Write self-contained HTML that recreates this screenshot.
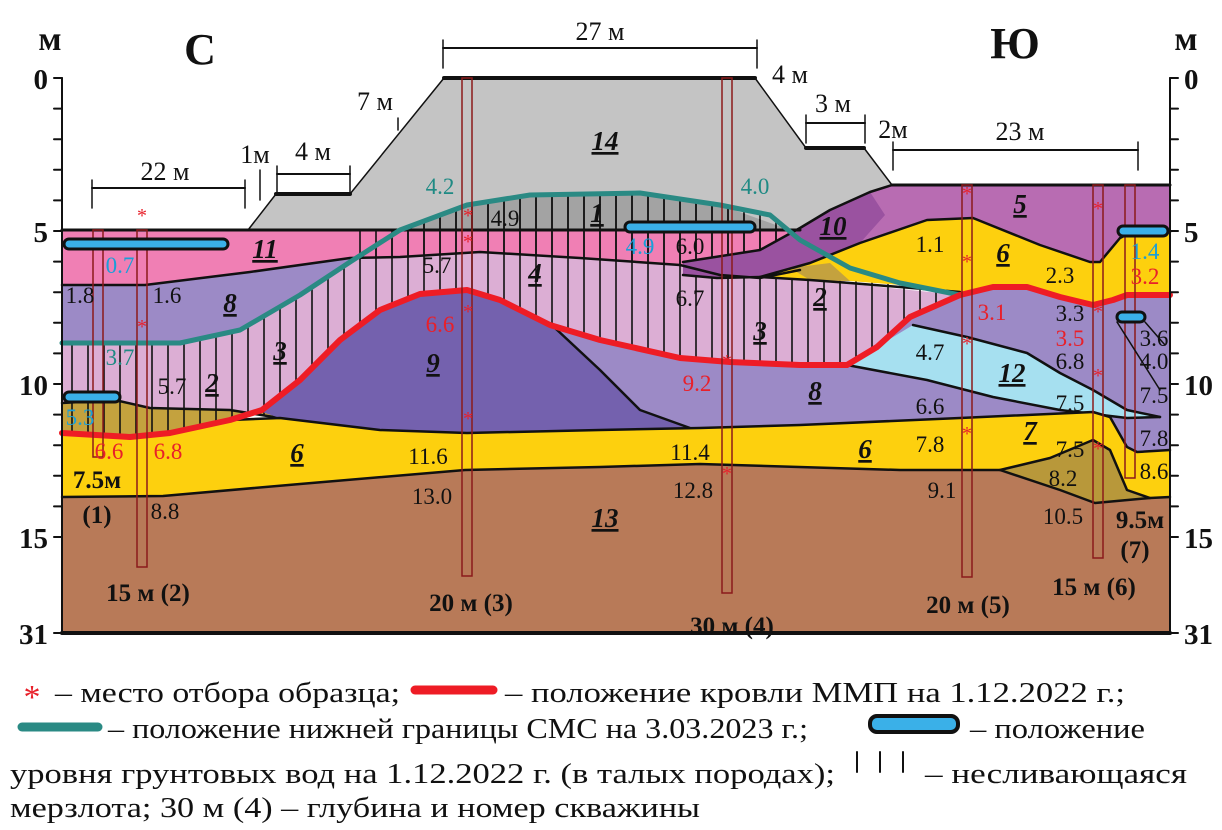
<!DOCTYPE html>
<html><head><meta charset="utf-8"><style>
html,body{margin:0;padding:0;background:#fff;}
svg{display:block;font-family:"Liberation Serif",serif;}
.n{font-size:23px;fill:#111;}
.r{font-size:23px;fill:#e8202a;}
.b{font-size:23px;fill:#1a9fd8;}
.t{font-size:23px;fill:#1f8a84;}
.L{font-size:27px;font-weight:bold;font-style:italic;fill:#111;text-decoration:underline;}
.B{font-size:25px;font-weight:bold;fill:#111;}
.ax{font-size:29px;font-weight:bold;fill:#111;}
.lg{font-size:29px;fill:#111;}
</style></head><body>
<svg id="s" width="1222" height="830" viewBox="0 0 1222 830" xmlns="http://www.w3.org/2000/svg">
<defs>
<pattern id="hatch" width="16" height="10" patternUnits="userSpaceOnUse"><rect width="16" height="10" fill="none"/><line x1="8" y1="0" x2="8" y2="10" stroke="#111" stroke-width="1.6"/></pattern>
</defs>
<g id="layers"></g>
<g id="over"></g>
</svg>
<script>
const frame = {l:62, r:1170, top:78, bot:633};
const groundSurface = [[62,230],[248,230],[276,194],[350,194],[444,78],[755,78],[806,148],[864,148],[892,185],[1170,185]];
const top13 = [[62,497],[163,496],[300,484],[465,470],[600,467],[700,464],[900,470],[1000,470],[1060,490],[1095,503],[1150,498],[1170,497]];
const top6 = [[62,433],[130,437],[170,433],[230,420],[280,418],[380,430],[467,433],[600,430],[700,428],[800,425],[960,418],[1093,412],[1110,417],[1127,447],[1137,452],[1170,450]];
const redLine = [[62,433],[130,437],[170,433],[230,420],[262,410],[300,380],[340,340],[380,310],[420,294],[467,290],[500,300],[550,325],[600,340],[680,358],[730,362],[800,365],[847,365],[877,347],[910,317],[960,295],[993,287],[1027,287],[1060,297],[1093,305],[1113,300],[1127,295],[1170,295]];
const tealLine = [[62,343],[180,343],[240,330],[300,295],[350,262],[400,230],[467,205],[530,195],[640,193],[720,205],[770,215],[800,240],[850,268],[900,283],[960,295]];
const bot11 = [[62,285],[145,285],[250,272],[350,258],[400,257],[480,252],[580,258],[680,265],[720,275],[760,278],[800,270]];

const NS='http://www.w3.org/2000/svg';
const L=document.getElementById('layers'), O=document.getElementById('over');
function pts(a){return a.map(p=>p.join(',')).join(' ');}
function poly(g,arr,fill,name){const e=document.createElementNS(NS,'polygon');e.setAttribute('points',pts(arr));e.setAttribute('fill',fill);


g.appendChild(e);return e;}
function line(g,arr,stroke,sw,name){const e=document.createElementNS(NS,'polyline');e.setAttribute('points',pts(arr));e.setAttribute('fill','none');e.setAttribute('stroke',stroke);e.setAttribute('stroke-width',sw);e.setAttribute('stroke-linejoin','round');e.setAttribute('stroke-linecap','round');


g.appendChild(e);return e;}
function rev(a){return a.slice().reverse();}
function text(g,x,y,s,cls,name,anchor){const e=document.createElementNS(NS,'text');e.setAttribute('x',x);e.setAttribute('y',y);e.setAttribute('class',cls);if(anchor)e.setAttribute('text-anchor',anchor);e.textContent=s;


g.appendChild(e);return e;}

poly(L,[[248,230],[276,194],[350,194],[444,78],[755,78],[806,148],[864,148],[892,185],[860,197],[827,213],[800,228],[790,230]],'#c4c4c4','layer-14');
poly(L,[[400,230]].concat(tealLine.slice(5,10)).concat([[790,230]]),'#a3a3a3','layer-1');
poly(L,[[400,230]].concat(tealLine.slice(5,10)).concat([[790,230]]),'url(#hatch)','layer-1-hatch');
poly(L,[[62,230],[800,230]].concat(rev(bot11)),'#f07fb4','layer-11');
poly(L,[[350,230],[800,230]].concat(rev(bot11.slice(3))),'url(#hatch)','layer-11-hatch');
poly(L,bot11.concat([[860,285],[960,295]]).concat(rev(redLine)),'#dcaed4','layer-3');
poly(L,[[62,343]].concat(tealLine.slice(1)).concat(rev(redLine)),'url(#hatch)','layer-3-hatch');
poly(L,bot11.slice(0,4).concat(rev(tealLine.slice(0,5))),'#9c8ac6','layer-8-left');
poly(L,[[62,403],[115,400],[150,408],[230,410],[280,418]].concat(rev(redLine.slice(0,5))),'#c4a23e','layer-2-left');
poly(L,[[62,403],[115,400],[150,408],[230,410],[280,418]].concat(rev(redLine.slice(0,5))),'url(#hatch)','layer-2-hatch');
line(L,[[62,403],[115,400],[150,408],[230,410],[280,418],[380,430],[467,433]],'#111',2.5,'boundary-2-6');
poly(L,redLine.slice(6).concat(rev(top6.slice(6))),'#9c8ac6','layer-8-right');
poly(L,[[262,412],[300,380],[340,340],[380,310],[420,294],[467,290],[500,300],[555,328],[600,370],[640,410],[690,428],[600,430],[467,433],[380,430],[280,418]],'#7461ae','layer-9');
line(L,[[555,328],[600,370],[640,410],[690,428]],'#111',2.5,'boundary-9-8');
poly(L,[[847,365],[913,325],[967,337],[1027,353],[1060,373],[1093,390],[1127,410],[1160,417],[1127,418],[1060,410],[993,397],[927,380]],'#a6e0f0','layer-12');
line(L,[[913,325],[967,337],[1027,353],[1060,373],[1093,390],[1127,410],[1160,417]],'#111',2.5,'boundary-12-top');
line(L,[[847,365],[927,380],[993,397],[1060,410],[1127,418],[1160,417]],'#111',2.5,'boundary-12-bottom');
poly(L,[[800,228],[827,213],[860,197],[892,185],[1170,185],[1170,232],[1132,232],[1120,238],[1100,262],[1090,262],[1040,245],[973,218],[927,220],[860,243],[810,263],[760,277]],'#b86cb2','layer-5');
poly(L,[[683,262],[760,250],[800,228],[830,210],[870,192],[885,215],[860,243],[810,263],[760,277],[717,278],[683,275]],'#9a52a0','layer-10');
poly(L,[[760,277],[810,263],[860,243],[927,220],[973,218],[1040,245],[1090,262],[1100,262],[1120,238],[1132,232],[1170,232],[1170,295],[1127,295],[1113,300],[1093,305],[1060,297],[1027,287],[993,287],[960,295],[900,285],[850,281],[810,280]],'#fdd00e','layer-6-upper');
poly(L,[[790,268],[830,263],[850,281],[810,280]],'#c4a23e','layer-2-right');
line(L,[[760,277],[810,263],[860,243],[927,220],[973,218],[1040,245],[1090,262],[1100,262],[1120,238],[1132,232],[1170,232]],'#111',2.5,'boundary-5-6');
line(L,[[683,275],[717,278],[760,277],[810,280],[850,283],[900,287],[960,292]],'#111',2.5,'boundary-6-3');
line(L,[[683,262],[760,250],[800,228],[830,210],[870,192],[892,185]],'#111',2.5,'boundary-10');
poly(L,top6.concat(rev(top13)),'#fdd00e','layer-6');
poly(L,[[1000,470],[1050,458],[1093,440],[1110,450],[1127,490],[1150,498],[1095,503],[1060,490]],'#b8983a','layer-7');
poly(L,top13.concat([[1170,633],[62,633]]),'#b87a58','layer-13');
line(L,[[248,230],[800,230]],'#111',3,'boundary-ground');
line(L,[[62,230],[248,230]],'#111',3,'ground-left');
line(L,[[892,185],[1170,185]],'#111',3,'ground-right');
line(L,[[444,78],[755,78]],'#111',4,'embankment-top');
line(L,[[276,194],[350,194]],'#111',4,'berm-left');
line(L,[[806,148],[864,148]],'#111',4,'berm-right');
line(L,[[248,230],[276,194]],'#111',1.5,'slope-1');
line(L,[[350,194],[444,78]],'#111',1.5,'slope-2');
line(L,[[755,78],[806,148]],'#111',1.5,'slope-3');
line(L,[[864,148],[892,185]],'#111',1.5,'slope-4');
line(L,bot11,'#111',2.5,'boundary-11');
line(L,top6,'#111',2.5,'boundary-top6');
line(L,top13,'#111',2.5,'boundary-top13');
line(L,[[1000,470],[1050,458],[1093,440],[1110,450],[1127,490],[1150,498]],'#111',2.5,'boundary-7');
line(L,[[62,633],[1170,633]],'#111',4,'bottom-line');
line(O,tealLine,'#2a8a84',5,'smc-boundary-line');
line(O,redLine,'#ee1c25',6,'mmp-top-line');

const bhX=[93,137,462,722,962,1093,1125];
const bhTop=[230,230,78,78,185,185,185];
const bhBot=[457,567,576,593,577,558,478];
for(let i=0;i<bhX.length;i++){const e=document.createElementNS(NS,'rect');e.setAttribute('x',bhX[i]);e.setAttribute('y',bhTop[i]);e.setAttribute('width',10);e.setAttribute('height',bhBot[i]-bhTop[i]);e.setAttribute('fill','none');e.setAttribute('stroke','#8b1a1a');e.setAttribute('stroke-width',1.5);


O.appendChild(e);}
function lens(x1,x2,y,name){const e=document.createElementNS(NS,'rect');e.setAttribute('x',x1);e.setAttribute('y',y-5);e.setAttribute('width',x2-x1);e.setAttribute('height',10);e.setAttribute('rx',5);e.setAttribute('fill','#3ab0e8');e.setAttribute('stroke','#111');e.setAttribute('stroke-width',3);


O.appendChild(e);}
lens(64,228,244,'groundwater-left');lens(64,120,397,'groundwater-left-lower');lens(625,755,227,'groundwater-middle');lens(1118,1168,231,'groundwater-right');lens(1117,1145,317,'groundwater-right-small');
line(O,[[1145,322],[1165,345]],'#111',1.5,'leader-1');line(O,[[1117,322],[1160,390]],'#111',1.5,'leader-2');

line(O,[[62,78],[62,633]],'#111',2,'left-axis');
line(O,[[1170,78],[1170,633]],'#111',2,'right-axis');
const tickDepths=[0,1,2,3,4,5,6,7,8,9,10,11,12,13,14,15];
tickDepths.forEach(d=>{const y=78+d*30.6;line(O,[[54,y],[62,y]],'#111',2,'left-tick');line(O,[[1170,y],[1178,y]],'#111',2,'right-tick');});
line(O,[[54,633],[62,633]],'#111',2,'left-tick');line(O,[[1170,633],[1178,633]],'#111',2,'right-tick');
const axisLabels=['0','5','10','15','31'];
const axisY=[78,231,384,537,633];
axisLabels.forEach((s,i)=>{text(O,48,axisY[i]+11,s,'ax','left-axis-label','end');text(O,1184,axisY[i]+11,s,'ax','right-axis-label','start');});
text(O,50,50,'м','ax','left-unit','middle').setAttribute('style','font-size:34px');
text(O,1186,50,'м','ax','right-unit','middle').setAttribute('style','font-size:34px');
text(O,200,64,'С','ax','north-label','middle').setAttribute('style','font-size:44px');
text(O,1015,58,'Ю','ax','south-label','middle').setAttribute('style','font-size:44px');

function dim(x1,x2,y,lbl,tx,ty,name){line(O,[[x1,y],[x2,y]],'#111',2,name+'-line');line(O,[[x1,y-8],[x1,y+20]],'#111',1.5,name+'-tick');line(O,[[x2,y-8],[x2,y+20]],'#111',1.5,name+'-tick');text(O,tx,ty,lbl,'n',name,'middle').setAttribute('style','font-size:26px');}
dim(92,245,188,'22 м',165,180,'dim-22m');
dim(277,350,174,'4 м',313,160,'dim-4m-left');
dim(443,757,48,'27 м',600,40,'dim-27m');
dim(806,865,123,'3 м',833,112,'dim-3m');
dim(893,1138,150,'23 м',1020,140,'dim-23m');
text(O,255,163,'1м','n','dim-1m','middle').setAttribute('style','font-size:26px');
line(O,[[260,170],[260,200]],'#111',1.5,'dim-1m-tick');
text(O,375,110,'7 м','n','dim-7m','middle').setAttribute('style','font-size:26px');
line(O,[[398,118],[398,130]],'#111',1.5,'dim-7m-tick');
text(O,790,83,'4 м','n','dim-4m-right','middle').setAttribute('style','font-size:26px');
text(O,893,138,'2м','n','dim-2m','middle').setAttribute('style','font-size:26px');

const stars=[[142,222],[142,333],[468,222],[468,318],[468,425],[468,248],[727,368],[727,480],[967,200],[967,268],[967,350],[967,440],[1098,215],[1098,318],[1098,382],[1098,455]];
stars.forEach(p=>text(O,p[0],p[1],'*','r','sample-star','middle').setAttribute('style','font-size:20px'));

const layerLabels=[['14',605,150],['11',265,258],['8',230,312],['3',280,360],['2',212,392],['9',433,372],['1',597,222],['4',535,282],['10',833,235],['2',820,306],['3',760,340],['8',815,400],['12',1012,382],['6',1003,262],['5',1020,213],['6',297,462],['6',865,458],['7',1030,440],['13',605,527]];
layerLabels.forEach(a=>text(O,a[1],a[2],a[0],'L','layer-label-'+a[0],'middle'));
const vals=[['0.7',120,273,'b'],['1.8',80,303,'n'],['1.6',167,303,'n'],['3.7',120,365,'t'],['5.3',80,425,'b'],['5.7',172,394,'n'],['6.6',109,459,'r'],['6.8',168,459,'r'],['4.2',440,194,'t'],['4.9',505,226,'n'],['5.7',437,273,'n'],['6.6',440,332,'r'],['4.9',640,254,'b'],['6.0',690,254,'n'],['6.7',690,306,'n'],['9.2',697,391,'r'],['4.0',755,194,'t'],['11.6',428,464,'n'],['11.4',690,460,'n'],['1.1',930,252,'n'],['2.3',1060,283,'n'],['3.1',992,320,'r'],['3.3',1070,321,'n'],['3.5',1070,346,'r'],['4.7',930,360,'n'],['6.8',1070,369,'n'],['6.6',930,414,'n'],['7.8',930,452,'n'],['7.5',1070,411,'n'],['7.5',1070,457,'n'],['8.2',1063,486,'n'],['1.4',1145,259,'b'],['3.2',1145,284,'r'],['3.6',1154,346,'n'],['4.0',1154,369,'n'],['7.5',1154,403,'n'],['7.8',1154,446,'n'],['8.6',1154,479,'n'],['13.0',432,504,'n'],['12.8',693,498,'n'],['9.1',942,498,'n'],['10.5',1063,524,'n'],['8.8',165,519,'n']];
vals.forEach(v=>text(O,v[1],v[2],v[0],v[3],'depth-value','middle'));
const caps=[['7.5м',97,488],['(1)',97,523],['15 м (2)',148,601],['20 м (3)',471,611],['30 м (4)',732,634],['20 м (5)',968,613],['15 м (6)',1094,595],['9.5м',1140,528],['(7)',1135,558]];
caps.forEach(c=>text(O,c[1],c[2],c[0],'B','borehole-caption','middle'));

const LG=document.createElementNS(NS,'g');


document.getElementById('s').appendChild(LG);
text(LG,32,708,'*','r','legend-star','middle').setAttribute('style','font-size:34px');
function lt(x,y,s,w,name){const e=text(LG,x,y,s,'lg',name);e.setAttribute('textLength',w);e.setAttribute('lengthAdjust','spacingAndGlyphs');}
lt(55,702,'– место отбора образца;',345,'legend-sample');
line(LG,[[415,690],[493,690]],'#ee1c25',9,'legend-red-line');
lt(505,702,'– положение кровли ММП на 1.12.2022 г.;',620,'legend-mmp');
line(LG,[[22,727],[98,727]],'#2a8a84',9,'legend-teal-line');
lt(108,738,'– положение нижней границы СМС на 3.03.2023 г.;',700,'legend-smc');
const lz=document.createElementNS(NS,'rect');lz.setAttribute('x',870);lz.setAttribute('y',716);lz.setAttribute('width',88);lz.setAttribute('height',16);lz.setAttribute('rx',7);lz.setAttribute('fill','#3ab0e8');lz.setAttribute('stroke','#111');lz.setAttribute('stroke-width',4);


LG.appendChild(lz);
lt(970,738,'– положение',175,'legend-gw-1');
lt(10,783,'уровня грунтовых вод на 1.12.2022 г. (в талых породах);',825,'legend-gw-2');
[857,880,903].forEach(x=>line(LG,[[x,752],[x,772]],'#111',2,'legend-hatch'));
lt(925,783,'– несливающаяся',262,'legend-talik');
lt(10,817,'мерзлота; 30 м (4) – глубина и номер скважины',690,'legend-borehole');
</script>
</body></html>
